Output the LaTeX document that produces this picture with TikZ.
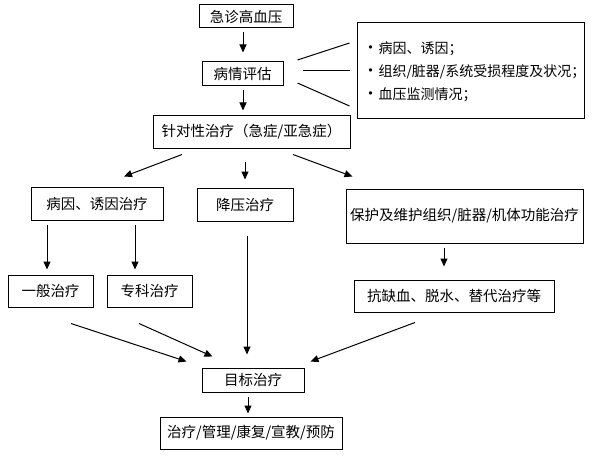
\documentclass[tikz,border=0pt]{standalone}
\usepackage{fontspec}
\setmainfont{Noto Sans CJK SC}
\usetikzlibrary{arrows.meta}

\begin{document}
\begin{tikzpicture}[x=1pt, y=-1pt, line width=1pt, >={Triangle[length=8pt,width=7pt]},
  box/.style={draw, inner sep=0pt, font=\fontsize{14.5pt}{17pt}\selectfont},
  item/.style={anchor=west, inner sep=0pt, font=\fontsize{14pt}{16pt}\selectfont}]

\useasboundingbox (0,0) rectangle (595,460);

% Assessment
\node[box, minimum width=94pt, minimum height=23pt] (jz) at (246,16.5) {急诊高血压};
\node[box, minimum width=81pt, minimum height=24pt] (pg) at (242.5,74) {病情评估};
\node[box, minimum width=197pt, minimum height=32pt] (zd) at (251.5,132) {针对性治疗（急症/亚急症）};
\node[box, minimum width=227pt, minimum height=96pt] (info) at (470.5,71) {};
\node[item] (i1) at (362,49) {{\fontsize{16pt}{16pt}\selectfont •}病因、诱因；};
\node[item] (i2) at (362,72) {{\fontsize{16pt}{16pt}\selectfont •}组织/脏器/系统受损程度及状况；};
\node[item] (i3) at (362,95) {{\fontsize{16pt}{16pt}\selectfont •}血压监测情况；};

\draw[->] ([shift={(-3,4)}]jz.south) -- ([shift={(0.5,-9)}]pg.north);
\draw[->] ([shift={(0.5,4)}]pg.south) -- ([shift={(-8.5,-5)}]zd.north);
\draw ([shift={(14,-14)}]pg.east) -- ([shift={(-7,-28)}]info.west);
\draw ([shift={(19,-3)}]pg.east) -- ([shift={(-7,0)}]info.west);
\draw ([shift={(14,9)}]pg.east) -- ([shift={(-7,35)}]info.west);

% Treatment
\node[box, minimum width=132pt, minimum height=33pt] (byz) at (97,203.5) {病因、诱因治疗};
\node[box, minimum width=96pt, minimum height=33pt] (jy) at (245,204.5) {降压治疗};
\node[box, minimum width=237pt, minimum height=54pt] (bh) at (464.5,216) {保护及维护组织/脏器/机体功能治疗};
\node[box, minimum width=85pt, minimum height=32pt] (yb) at (50.5,291) {一般治疗};
\node[box, minimum width=85pt, minimum height=32pt] (zk) at (149.5,291) {专科治疗};
\node[box, minimum width=200pt, minimum height=32pt] (kq) at (454,296) {抗缺血、脱水、替代治疗等};

\draw[->] ([shift={(-69.5,6)}]zd.south) -- ([shift={(27,-10)}]byz.north);
\draw[->] ([shift={(-6.5,13)}]zd.south) -- ([shift={(0,-8)}]jy.north);
\draw[->] ([shift={(41.5,6)}]zd.south) -- ([shift={(7,-12)}]bh.north west);
\draw[->] ([shift={(-50,4)}]byz.south) -- ([shift={(-3.5,-5)}]yb.north);
\draw[->] ([shift={(38,4)}]byz.south) -- ([shift={(-14.5,-5)}]zk.north);
\draw[->] ([shift={(-20.5,4)}]bh.south) -- ([shift={(-10,-13)}]kq.north);

% Goal
\node[box, minimum width=102pt, minimum height=24pt] (mb) at (253,380) {目标治疗};
\node[box, minimum width=182pt, minimum height=32pt] (zl) at (251,433) {治疗/管理/康复/宣教/预防};

\draw[->] ([shift={(2,14)}]jy.south) -- ([shift={(-6,-13)}]mb.north);
\draw[->] ([shift={(20.5,16)}]yb.south) -- ([shift={(-15,-6)}]mb.north west);
\draw[->] ([shift={(-10.5,16)}]zk.south) -- ([shift={(11,-11)}]mb.north west);
\draw[->] ([shift={(-39,10)}]kq.south) -- ([shift={(6,-6)}]mb.north east);
\draw[->] ([shift={(-5,4)}]mb.south) -- ([shift={(-3,-3)}]zl.north);

\end{tikzpicture}
\end{document}
